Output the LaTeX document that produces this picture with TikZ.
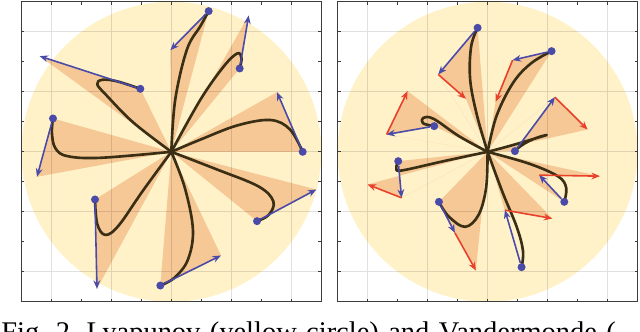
\documentclass[tikz,border=0pt]{standalone}
\usepackage{fontspec}
\setmainfont{Liberation Serif}
\usetikzlibrary{arrows.meta}
\definecolor{Lyapunov}{HTML}{FFF2C9}
\definecolor{Cone}{HTML}{F6C896}
\definecolor{Flow}{HTML}{4A4AA8}
\definecolor{Correction}{HTML}{E8402A}
\definecolor{Trace}{HTML}{3A2E14}
\definecolor{Ink}{HTML}{3C3C3C}
\newcommand{\phaseaxes}{%
  \draw[black,opacity=.12,line width=.4pt] (-5,-5) grid (5,5);
  \foreach \v in {-4,...,4} {
    \draw[Ink,line width=.5pt] (\v,-5) -- (\v,-4.9) (\v,5) -- (\v,4.9)
      (-5,\v) -- (-4.9,\v) (5,\v) -- (4.9,\v);
  }
  \draw[Ink,line width=.6pt] (-5,-5) rectangle (5,5);
}

\begin{document}
\begin{tikzpicture}[x=.5cm,y=.5cm,>={Stealth[length=4pt,width=3.2pt]},
    trace/.style={Trace,line width=1.25pt,line cap=round,line join=round},
    flow/.style={Flow,line width=.75pt,->},
    fix/.style={Correction,line width=.75pt,->},
    state/.style={circle,fill=Flow,inner sep=0pt,minimum size=3.8pt}]
  \useasboundingbox (-5.71,-5.98) rectangle (15.62,5.06);

  % Left panel: Lyapunov disc, cones and flow directions.
  \begin{scope}
    \fill[Lyapunov] (0,0) circle (5);
    \coordinate (Lo) at (0,0);
    \foreach \k/\dx/\dy/\tx/\ty in {1/1.244/4.689/-0.033/3.389,
        2/2.278/2.778/2.578/4.544, 3/4.378/0/3.522/1.989,
        4/2.856/-2.311/4.833/-1.256, 5/-0.367/-4.456/1.656/-3.456,
        6/-2.544/-1.589/-2.478/-4.567, 7/-3.944/1.111/-4.478/-0.833,
        8/-1.033/2.1/-4.389/3.189} {
      \coordinate (Ld\k) at (\dx,\dy);
      \coordinate (Lt\k) at (\tx,\ty);
      \fill[Cone] (Lo) -- (Ld\k) -- (Lt\k) -- cycle;
    }
    \phaseaxes
    \draw[trace] plot[smooth,tension=.6] coordinates {(Lo) (0.13,1.74) (0.52,3.41) (0.97,4.19) (Ld1)};
    \draw[trace] plot[smooth,tension=.6] coordinates {(Lo) (0.97,1.74) (1.75,2.85) (2.2,3.28) (2.34,3.12) (Ld2)};
    \draw[trace] plot[smooth,tension=.6] coordinates {(Lo) (1.0,0.42) (2.2,0.88) (3.3,1.06) (3.95,0.75) (Ld3)};
    \draw[trace] plot[smooth,tension=.6] coordinates {(Lo) (1.5,-0.58) (2.9,-1.15) (3.4,-1.65) (3.25,-2.1) (Ld4)};
    \draw[trace] plot[smooth,tension=.6] coordinates {(Lo) (0.45,-1.2) (0.72,-2.6) (0.55,-3.6) (0.1,-4.2) (Ld5)};
    \draw[trace] plot[smooth,tension=.6] coordinates {(Lo) (-0.95,-1.3) (-1.75,-2.45) (-2.2,-2.77) (-2.47,-2.4) (Ld6)};
    \draw[trace] plot[smooth,tension=.6] coordinates {(Lo) (-2.37,-0.2) (-3.48,-0.14) (-3.87,0.13) (-3.98,0.63) (Ld7)};
    \draw[trace] plot[smooth,tension=.6] coordinates {(Lo) (-1.26,0.97) (-2.14,1.86) (-2.47,2.25) (-2.3,2.4) (-1.81,2.35) (Ld8)};
    \foreach \k in {1,...,8} {
      \node[state] (Ls\k) at (Ld\k) {};
      \draw[flow] (Ls\k) -- (Lt\k);
    }
  \end{scope}

  % Right panel: the same disc with corrected directions.
  \begin{scope}[shift={(10.54,0)}]
    \fill[Lyapunov] (0,0) circle (5);
    \coordinate (Ro) at (0,0);
    \foreach \k/\dx/\dy/\bx/\by/\rx/\ry in {1/-0.333/4.133/-1.644/2.578/-0.722/1.767,
        2/2.133/3.356/0.833/3.056/0.267/1.667, 3/0.911/0.022/2.244/1.822/3.333/0.744,
        4/2.556/-1.667/1.722/-0.778/3.744/-0.811, 5/1.133/-3.844/0.578/-1.944/2.156/-2.222,
        6/-1.622/-1.667/-1.089/-2.7/-0.389/-3.956, 7/-2.978/-0.311/-2.867/-1.533/-4.0/-1.089,
        8/-1.778/0.856/-3.367/0.578/-2.667/2.022} {
      \coordinate (Rd\k) at (\dx,\dy);
      \coordinate (Rb\k) at (\bx,\by);
      \coordinate (Rr\k) at (\rx,\ry);
      \fill[Cone] (Ro) -- (Rd\k) -- (Rb\k) -- cycle (Ro) -- (Rb\k) -- (Rr\k) -- cycle;
    }
    \phaseaxes
    \draw[trace] plot[smooth,tension=.6] coordinates {(Ro) (-0.35,1.2) (-0.58,2.4) (-0.55,3.5) (Rd1)};
    \draw[trace] plot[smooth,tension=.6] coordinates {(Ro) (0.3,1.2) (0.85,2.3) (1.45,2.95) (Rd2)};
    \draw[trace] (Ro) .. controls (0.8,0.2) and (1.6,0.45) .. (1.97,0.56)
      .. controls (1.6,0.5) and (1.1,0.25) .. (Rd3);
    \draw[trace] plot[smooth,tension=.6] coordinates {(Ro) (1.4,-0.4) (2.35,-0.82) (2.62,-1.2) (Rd4)};
    \draw[trace] plot[smooth,tension=.6] coordinates {(Ro) (0.5,-1.35) (0.97,-2.5) (1.18,-3.3) (Rd5)};
    \draw[trace] plot[smooth,tension=.6] coordinates {(Ro) (-0.05,-1.2) (-0.3,-2.1) (-0.75,-2.5) (-1.3,-2.15) (Rd6)};
    \draw[trace] plot[smooth,tension=.6] coordinates {(Ro) (-1.5,-0.32) (-2.85,-0.62) (-3.04,-0.55) (Rd7)};
    \draw[trace] plot[smooth,tension=.6] coordinates {(Ro) (-0.95,0.52) (-1.8,1.1) (-2.15,1.13) (-2.15,0.95) (Rd8)};
    \foreach \k in {1,...,8} {
      \node[state] (Rs\k) at (Rd\k) {};
      \draw[flow] (Rs\k) -- (Rb\k);
      \draw[fix] (Rb\k) -- (Rr\k);
    }
  \end{scope}

  % Caption, cut by the lower edge.
  \node[anchor=base west,inner sep=0pt,font=\fontsize{13.5}{16}\selectfont] (caption) at (-5.68,-6.33)
    {\frenchspacing\spaceskip=.33em Fig. 2. Lyapunov (yellow circle) and Vandermonde (};
\end{tikzpicture}
\end{document}
